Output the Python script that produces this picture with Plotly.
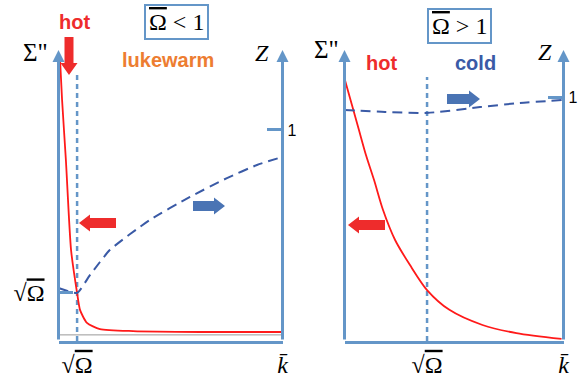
import plotly.graph_objects as go

W, H = 585, 383

# ---------------- data (plot units: k in [0,1], Sigma'' in [0,1], Z in units of 1) ----
# Left panel (Omega < 1)
sqrtO_left = 0.083
k_hot_left = [0.007, 0.016, 0.033, 0.056, 0.083, 0.096, 0.127, 0.185, 0.333, 0.632, 1.0]
sig_hot_left = [0.966, 0.828, 0.622, 0.313, 0.165, 0.107, 0.062, 0.041, 0.034, 0.031, 0.031]
k_z_left = [0.0, 0.083, 0.141, 0.230, 0.408, 0.587, 0.752, 0.886, 0.998]
z_left = [0.251, 0.228, 0.313, 0.432, 0.574, 0.683, 0.772, 0.834, 0.872]
sig_tick_left = 0.165
baseline_left = 0.021
zmax_left = 1.379
dash_top_left = 0.914

# Right panel (Omega > 1)
sqrtO_right = 0.377
k_hot_right = [0.002, 0.034, 0.066, 0.098, 0.135, 0.176, 0.231, 0.299, 0.377, 0.479, 0.630, 0.785, 0.991]
sig_hot_right = [0.897, 0.811, 0.725, 0.639, 0.553, 0.450, 0.347, 0.261, 0.175, 0.107, 0.055, 0.027, 0.007]
k_z_right = [0.0, 0.185, 0.377, 0.619, 0.801, 1.0]
z_right = [0.947, 0.939, 0.935, 0.959, 0.976, 0.988]
zmax_right = 1.193
dash_top_right = 0.907

OM = '<span style="text-decoration:overline">Ω</span>'
SQ = "√" + OM
KB = "<i>k̄</i>"

AX = "#6496C8"
RED = "#FF1A1A"
ZBLUE = "#3A5AA6"
ARED = "#EE2C2C"
ABLUE = "#4A74B4"
SERIF = "Liberation Serif"
SANS = "Liberation Sans"


def px(x):
    return x / W


def py(y):
    return 1 - y / H


fig = go.Figure()

# left panel traces
fig.add_trace(go.Scatter(x=[0, 1], y=[baseline_left, baseline_left], mode="lines",
                         line=dict(color="#999999", width=1), xaxis="x", yaxis="y"))
fig.add_trace(go.Scatter(x=[sqrtO_left, sqrtO_left], y=[0, dash_top_left], mode="lines",
                         line=dict(color=AX, width=2.5, dash="5px,4px"), xaxis="x", yaxis="y"))
fig.add_trace(go.Scatter(x=k_hot_left, y=sig_hot_left, mode="lines",
                         line=dict(color=RED, width=1.8, shape="spline", smoothing=0.6),
                         xaxis="x", yaxis="y"))
fig.add_trace(go.Scatter(x=k_z_left, y=z_left, mode="lines",
                         line=dict(color=ZBLUE, width=2, dash="10px,6px", shape="spline", smoothing=0.5),
                         xaxis="x", yaxis="y3"))

# right panel traces
fig.add_trace(go.Scatter(x=[sqrtO_right, sqrtO_right], y=[0, dash_top_right], mode="lines",
                         line=dict(color=AX, width=2.5, dash="5px,4px"), xaxis="x2", yaxis="y2"))
fig.add_trace(go.Scatter(x=k_hot_right, y=sig_hot_right, mode="lines",
                         line=dict(color=RED, width=1.8, shape="spline", smoothing=0.8),
                         xaxis="x2", yaxis="y2"))
fig.add_trace(go.Scatter(x=k_z_right, y=z_right, mode="lines",
                         line=dict(color=ZBLUE, width=2, dash="10px,6px", shape="spline", smoothing=0.6),
                         xaxis="x2", yaxis="y4"))

ydom = [py(341), py(50)]
common_x = dict(range=[0, 1], showline=True, linecolor=AX, linewidth=3, ticks="",
                showgrid=False, zeroline=False, tickfont=dict(family=SERIF, size=24, color="black"),
                ticklabelstandoff=0, fixedrange=True, automargin=False)
common_y = dict(range=[0, 1], showgrid=False, zeroline=False, showline=False, fixedrange=True,
                automargin=False)
ztick = dict(side="right", tickvals=[1], ticktext=["1"], ticks="inside", ticklen=16, tickwidth=3,
             tickcolor=AX, tickfont=dict(family=SANS, size=16, color="black"), ticklabelstandoff=4,
             showgrid=False, zeroline=False, showline=False, fixedrange=True, automargin=False)

fig.update_layout(
    width=W, height=H, margin=dict(l=0, r=0, t=0, b=0),
    paper_bgcolor="white", plot_bgcolor="white", showlegend=False,
    xaxis=dict(domain=[px(58.5), px(282.5)], anchor="y", tickvals=[sqrtO_left, 1],
               ticktext=[SQ, KB], **common_x),
    yaxis=dict(domain=ydom, anchor="x", tickvals=[sig_tick_left], ticktext=[SQ],
               ticks="inside", ticklen=14, tickwidth=3, tickcolor=AX,
               tickfont=dict(family=SERIF, size=24, color="black"), ticklabelstandoff=13,
               **common_y),
    yaxis3=dict(overlaying="y", anchor="x", range=[0, zmax_left], **ztick),
    xaxis2=dict(domain=[px(344.5), px(563.5)], anchor="y2", tickvals=[sqrtO_right, 1],
                ticktext=[SQ, KB], **common_x),
    yaxis2=dict(domain=ydom, anchor="x2", showticklabels=False, ticks="", **common_y),
    yaxis4=dict(overlaying="y2", anchor="x2", range=[0, zmax_right], **ztick),
)

# vertical axis arrows
for xr, yr in (("x", "y"), ("x2", "y2")):
    for xv in (0, 1):
        fig.add_annotation(x=xv, y=1, ax=xv, ay=0, xref=xr, yref=yr, axref=xr, ayref=yr,
                           text="", showarrow=True, arrowhead=2, arrowsize=0.8,
                           arrowwidth=3, arrowcolor=AX, standoff=0, startstandoff=0)


def txt(x, y, s, color="black", size=20, family=SANS, bold=False, **kw):
    if bold:
        s = "<b>" + s + "</b>"
    fig.add_annotation(x=px(x), y=py(y), xref="paper", yref="paper", text=s, showarrow=False,
                       xanchor="center", yanchor="middle",
                       font=dict(family=family, size=size, color=color), **kw)


txt(74, 22, "hot", ARED, 20, bold=True)
txt(168, 60, "lukewarm", "#ED7D31", 20, bold=True)
txt(381, 63, "hot", ARED, 20, bold=True)
txt(475, 63, "cold", ZBLUE, 20, bold=True)
txt(35, 52, 'Σ"', size=25, family=SERIF)
txt(326, 50, 'Σ"', size=25, family=SERIF)
txt(262, 53, "<i>Z</i>", size=24, family=SERIF)
txt(545, 52, "<i>Z</i>", size=24, family=SERIF)
txt(176, 22, OM + " < 1", size=24, family=SERIF, bordercolor=AX, borderwidth=2, borderpad=3)
txt(459, 26, OM + " > 1", size=24, family=SERIF, bordercolor=AX, borderwidth=2, borderpad=3)


def harrow(tip, tail, y, color, body=5, head=8.5, hl=11):
    s = 1 if tip > tail else -1
    pts = [(tail, y - body), (tip - s * hl, y - body), (tip - s * hl, y - head), (tip, y),
           (tip - s * hl, y + head), (tip - s * hl, y + body), (tail, y + body)]
    path = "M " + " L ".join(f"{px(a):.5f},{py(b):.5f}" for a, b in pts) + " Z"
    fig.add_shape(type="path", path=path, xref="paper", yref="paper",
                  fillcolor=color, line=dict(width=0))


def varrow(x, tail, tip, color, body=4.5, head=8.5, hl=12):
    pts = [(x - body, tail), (x - body, tip - hl), (x - head, tip - hl), (x, tip),
           (x + head, tip - hl), (x + body, tip - hl), (x + body, tail)]
    path = "M " + " L ".join(f"{px(a):.5f},{py(b):.5f}" for a, b in pts) + " Z"
    fig.add_shape(type="path", path=path, xref="paper", yref="paper",
                  fillcolor=color, line=dict(width=0))


harrow(79, 116, 223, ARED)
harrow(225, 193, 206, ABLUE)
harrow(348, 385, 225, ARED)
harrow(480, 447, 99, ABLUE)
varrow(69, 37, 75, ARED)

fig.write_html("out.html", config={"displayModeBar": False},
               post_script="document.body.style.margin='0';")
